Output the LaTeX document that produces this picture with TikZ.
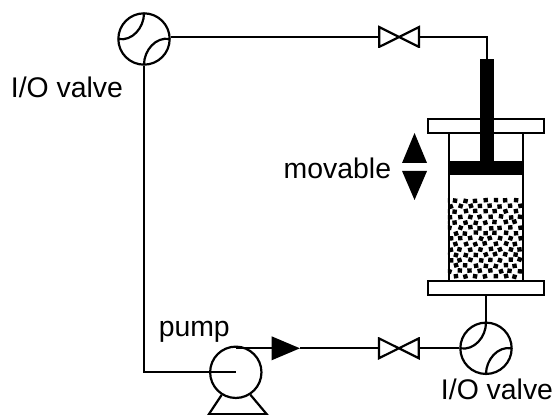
\documentclass[tikz,border=0pt]{standalone}
\usepackage{fontspec}
\setmainfont{Liberation Sans}
\usetikzlibrary{positioning, shapes.geometric}
\tikzstyle{io_valve}=[circle, draw=black, fill=white, inner sep=0, minimum size=38.5pt,
   path picture={
      \draw (path picture bounding box.north) to[out=-90,in=-10] (path picture bounding box.west);
      \draw (path picture bounding box.south) to[out=90,in=170] (path picture bounding box.east);
   }]
\tikzstyle{gate_valve}=[rectangle, inner sep=0, outer sep=0, minimum width=31.5pt, minimum height=16.5pt,
   path picture={
      \draw[line join=miter] ([shift={(0.8pt,-0.8pt)}]path picture bounding box.north west)
         -- ([shift={(-0.8pt,0.8pt)}]path picture bounding box.south east)
         -- ([shift={(-0.8pt,-0.8pt)}]path picture bounding box.north east)
         -- ([shift={(0.8pt,0.8pt)}]path picture bounding box.south west) -- cycle;
   }]
\tikzstyle{flange}=[rectangle, draw=black, fill=white, inner sep=0, minimum width=87pt, minimum height=10.5pt]
\tikzstyle{solid_part}=[rectangle, fill=black, inner sep=0, outer sep=0]
\tikzstyle{flow_arrow}=[isosceles triangle, isosceles triangle stretches, fill=black, inner sep=0, outer sep=0]
\tikzstyle{label_text}=[inner sep=0, outer sep=0, font=\fontsize{21.3}{24}\selectfont]

\begin{document}
\begin{tikzpicture}[line width=1.65pt]
\useasboundingbox (0,0) rectangle (420pt,310.5pt);

% Upper valves
\node [io_valve]   (io_top)     at (108pt,281.25pt)                     {};
\node [gate_valve] (gate_top)   [right=155.5pt of io_top, yshift=1.5pt] {};
\node [label_text] (label_top)  [below left=8.7pt and 15.75pt of io_top.south] {I/O valve};

% Cylinder body
\node [rectangle, draw=black, inner sep=0, minimum width=55.5pt, minimum height=120pt] (cylinder) at (364.5pt,155.25pt) {};

% Packed bed
\begin{scope}
\clip (cylinder.west |- 0,162pt) rectangle (cylinder.south east);
\pgfmathsetseed{11}
\foreach \row in {0,...,14} {
    \foreach \col in {0,...,7} {
        \pgfmathsetmacro{\grainx}{334+7.5*\col+3.75*mod(\row,2)+0.7*rand}
        \pgfmathsetmacro{\grainy}{160-4.05*\row+0.5*rand}
        \pgfmathsetmacro{\grainrot}{20*rand}
        \fill[rotate around={\grainrot:(\grainx pt,\grainy pt)}]
            (\grainx pt-1.65pt,\grainy pt-1.65pt) rectangle (\grainx pt+1.65pt,\grainy pt+1.65pt);
    }
}
\end{scope}

% Flanges, piston and rod
\node [flange] (flange_top) at (cylinder.north) {};
\node [flange] (flange_bot) at (cylinder.south) {};
\node [solid_part, minimum width=57pt, minimum height=10.5pt] (piston) at ([yshift=-31.5pt]cylinder.north) {};
\node [solid_part, minimum width=10.5pt, minimum height=76.5pt] (rod) [above=0pt of piston, xshift=0.75pt] {};

% Movable arrows
\coordinate (move_mid) at ([xshift=-53.6pt,yshift=30pt]cylinder.center);
\node [flow_arrow, shape border rotate=90, minimum width=18.75pt, minimum height=22.5pt] (move_up) [above=3pt of move_mid] {};
\node [flow_arrow, shape border rotate=-90, minimum width=18.75pt, minimum height=21.75pt] (move_down) [below=3pt of move_mid] {};
\node [label_text, anchor=base east] (label_move) at ([xshift=-17.6pt,yshift=-9pt]move_mid) {movable};

% Lower valves and pump
\node [io_valve]   (io_bot)     [below=19pt of flange_bot]                {};
\node [gate_valve] (gate_bot)   [left=29.5pt of io_bot]                   {};
\node [label_text] (label_bot)  [below=2.7pt of io_bot, xshift=8.25pt]    {I/O valve};
\node [io_valve, path picture={}] (pump) [left=86.5pt of gate_bot, yshift=-18pt] {};
\node [label_text] (label_pump) [above left=2.5pt and 4.5pt of pump.north] {pump};
\node [flow_arrow, isosceles triangle stretches=false, isosceles triangle apex angle=46, minimum height=21pt, minimum width=18pt] (flow_tip) [left=58.5pt of gate_bot] {};

% Pump stand
\coordinate (foot_left)  at ([xshift=-20.25pt,yshift=-31.5pt]pump.center);
\coordinate (foot_right) at ([xshift=23.25pt,yshift=-31.5pt]pump.center);
\draw (pump.-122) -- (foot_left) -- (foot_right) -- (pump.-57);

% Piping
\draw (io_top.east |- gate_top) -- (gate_top.west);
\draw (gate_top.east) -| (rod.north);
\draw (flange_bot.south) -- (io_bot.north);
\draw (io_bot.west) -- (gate_bot.east);
\draw (gate_bot.west) -- (flow_tip.east);
\draw (flow_tip.west) -- (pump.north |- flow_tip);
\draw (io_top.south) |- (pump.center);

\end{tikzpicture}
\end{document}
